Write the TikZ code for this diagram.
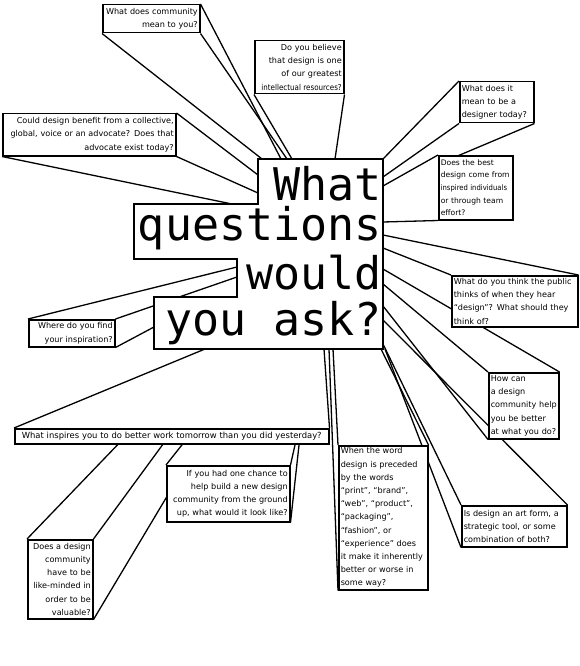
\documentclass[tikz,border=0pt]{standalone}
\usepackage{fontspec}
\usepackage{graphicx}
\usetikzlibrary{backgrounds}
\newfontfamily\qfont{DejaVu Sans}
\newfontfamily\tfont{DejaVu Sans Mono}

\tikzset{
  qbox/.style={draw, fill=white, line width=1.5pt, anchor=north west,
    inner xsep=2pt, inner ysep=0pt,
    font=\qfont\fontsize{8.1}{13.2}\selectfont},
  ray/.style={line width=1.3pt},
  titlebox/.style={draw, fill=white, line width=1.5pt},
  big/.style={font=\tfont\fontsize{45}{45}\selectfont, anchor=base east,
    inner sep=0pt, text height=30pt, text depth=6pt},
}

\begin{document}
\begin{tikzpicture}[x=1pt, y=-1pt]

    \useasboundingbox (0,0) rectangle (580,666);

    % --- QUESTION BOXES ---
    \node[qbox, text width=93pt, minimum height=28pt, align=right] (comm) at (102,4)
        {What does community\\mean to you?};
    \node[qbox, text width=85pt, minimum height=53pt, align=right] (believe) at (254,40)
        {Do you believe\\that design is one\\of our greatest\\\scalebox{0.88}[1]{intellectual resources?}};
    \node[qbox, text width=70pt, minimum height=41pt, align=left] (designer) at (459,81)
        {What does it\\mean to be a\\designer today?};
    \node[qbox, text width=70pt, minimum height=64pt, align=left,
          font=\qfont\fontsize{7.6}{12.6}\selectfont] (best) at (438,155)
        {Does the best\\design come from\\\scalebox{0.9}[1]{inspired individuals}\\or through team\\effort?};
    \node[qbox, text width=169pt, minimum height=42pt, align=right] (collective) at (2,113)
        {Could design benefit from a collective,\\global, voice or an advocate? Does that\\advocate exist today?};
    \node[qbox, text width=82pt, minimum height=27pt, align=right] (inspire) at (28,319)
        {Where do you find\\your inspiration?};
    \node[qbox, text width=122pt, minimum height=51pt, align=left] (public) at (451,275)
        {What do you think the public\\thinks of when they hear\\“design”? What should they\\think of?};
    \node[qbox, text width=66pt, minimum height=66pt, align=left] (help) at (488,372)
        {How can\\a design\\community help\\you be better\\at what you do?};
    \node[qbox, text width=310pt, minimum height=15pt, align=center,
          font=\qfont\fontsize{8.4}{13.2}\selectfont] (tomorrow) at (14,428)
        {What inspires you to do better work tomorrow than you did yesterday?};
    \node[qbox, text width=119pt, minimum height=56pt, align=right] (chance) at (166,465)
        {If you had one chance to\\help build a new design\\community from the ground\\up, what would it look like?};
    \node[qbox, text width=85pt, minimum height=144pt, align=left] (word) at (338,445)
        {When the word\\design is preceded\\by the words\\“print”, “brand”,\\“web”, “product”,\\“packaging”,\\“fashion”, or\\“experience” does\\it make it inherently\\better or worse in\\some way?};
    \node[qbox, text width=101pt, minimum height=41pt, align=left] (artform) at (461,505)
        {Is design an art form, a\\strategic tool, or some\\combination of both?};
    \node[qbox, text width=61pt, minimum height=79pt, align=right] (likeminded) at (27,539)
        {Does a design\\community\\have to be\\like-minded in\\order to be\\valuable?};

    % --- TITLE ---
    \draw[titlebox] (258,159) -- (383,159) -- (383,349) -- (154,349) -- (154,297)
        -- (237,297) -- (237,259) -- (134,259) -- (134,204) -- (258,204) -- cycle;
    \node[big] (what) at (382,200) {What};
    \node[big] (questions) at (382,240) {questions};
    \node[big] (would) at (382,289) {would};
    \node[big] (youask) at (382,335) {you ask?};

    % Ends of the rays on the title
    \coordinate (c1) at (262,159);
    \coordinate (c2) at (281,159);
    \coordinate (c3) at (287,159);
    \coordinate (c4) at (292,159);
    \coordinate (c5) at (335,159);
    \coordinate (c6) at (383,159);
    \coordinate (r1) at (383,177);
    \coordinate (r2) at (383,186);
    \coordinate (r3) at (383,222);
    \coordinate (r4) at (383,235);
    \coordinate (r5) at (383,248);
    \coordinate (r6) at (383,269);
    \coordinate (r7) at (383,284);
    \coordinate (r8) at (383,306);
    \coordinate (r9) at (383,320);
    \coordinate (r10) at (383,344);
    \coordinate (b1) at (385,349);
    \coordinate (b2) at (381,349);
    \coordinate (b3) at (333,349);
    \coordinate (b4) at (329,349);
    \coordinate (b5) at (324,349);
    \coordinate (b6) at (205,349);
    \coordinate (l1) at (258,175);
    \coordinate (l2) at (258,193);
    \coordinate (l3) at (232,204);
    \coordinate (l4) at (237,267);
    \coordinate (l5) at (237,277);
    \coordinate (l6) at (154,327);

    % Ends hidden behind other boxes
    \coordinate (h1) at (448,160);
    \coordinate (h2) at (297,436);
    \coordinate (h3) at (300,436);
    \coordinate (h4) at (189,436);
    \coordinate (h5) at (126,436);
    \coordinate (h6) at (169,436);
    \coordinate (h7) at (175,483);

    % --- RAYS (behind everything) ---
    \begin{scope}[on background layer]
        \draw[ray] (comm.south west) -- (c1);
        \draw[ray] (comm.north east) -- (c2);
        \draw[ray] (comm.south east) -- (c3);
        \draw[ray] (believe.south west) -- (c4);
        \draw[ray] (believe.south east) -- (c5);
        \draw[ray] (designer.north west) -- (c6);
        \draw[ray] (designer.south west) -- (r1);
        \draw[ray] (designer.south east) -- (h1);
        \draw[ray] (best.north west) -- (r2);
        \draw[ray] (best.south west) -- (r3);
        \draw[ray] (public.north east) -- (r4);
        \draw[ray] (public.north west) -- (r5);
        \draw[ray] (help.north east) -- (r6);
        \draw[ray] (help.north west) -- (r7);
        \draw[ray] (help.south west) -- (r8);
        \draw[ray] (artform.north east) -- (r9);
        \draw[ray] (artform.north west) -- (r10);
        \draw[ray] (artform.south west) -- (b1);
        \draw[ray] (word.north east) -- (b2);
        \draw[ray] (word.north west) -- (b3);
        \draw[ray] (word.south west) -- (b4);
        \draw[ray] (tomorrow.north east) -- (b5);
        \draw[ray] (tomorrow.north west) -- (b6);
        \draw[ray] (chance.north east) -- (h2);
        \draw[ray] (chance.south east) -- (h3);
        \draw[ray] (chance.north west) -- (h4);
        \draw[ray] (likeminded.north west) -- (h5);
        \draw[ray] (likeminded.north east) -- (h6);
        \draw[ray] (likeminded.south east) -- (h7);
        \draw[ray] (collective.north east) -- (l1);
        \draw[ray] (collective.south east) -- (l2);
        \draw[ray] (collective.south west) -- (l3);
        \draw[ray] (inspire.north west) -- (l4);
        \draw[ray] (inspire.north east) -- (l5);
        \draw[ray] (inspire.south east) -- (l6);
    \end{scope}

\end{tikzpicture}
\end{document}
